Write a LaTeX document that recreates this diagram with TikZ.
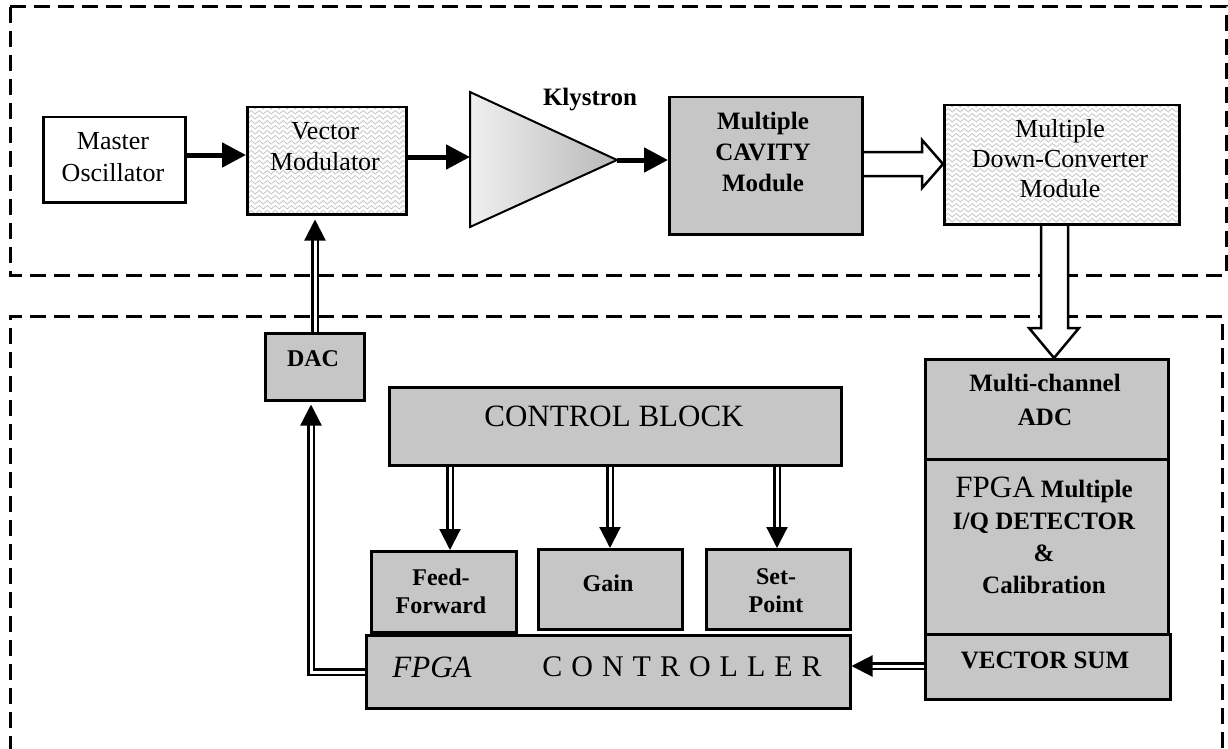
\documentclass[tikz,border=0pt]{standalone}
\usepackage{fontspec}
\setmainfont{Liberation Serif}
\newfontfamily\spacedfont[LetterSpace=30]{Liberation Serif}
\usetikzlibrary{arrows.meta,calc,decorations.pathmorphing,backgrounds}
\newcommand\myfs[2]{\fontsize{#1}{#2}\selectfont}
\begin{document}
\begin{tikzpicture}[x=1pt,y=-1pt,
  box/.style={draw, line width=2.5pt, inner sep=0pt, anchor=north west},
  graybox/.style={box, fill=gray!45},
  wavybox/.style={box, fill=white, path picture={
     \foreach \k in {0,...,26}{
       \draw[gray!45, line width=0.8pt, decorate, decoration={zigzag, segment length=8pt, amplitude=1.8pt}]
         ($(path picture bounding box.north west)+(-6,\k*5)$) -- ++(260,0);}}},
  txt/.style={align=center, inner sep=0pt},
  dashbox/.style={line width=3pt, dash pattern=on 16pt off 8pt},
  thickarr/.style={line width=5pt, -{Triangle[length=24pt,width=24pt]}},
  dblarr/.style={double, double distance=3pt, line width=2.2pt, -{Triangle[length=21pt,width=21pt]}},
  hollow/.style={line width=2.5pt, fill=white, line join=miter},
]
\useasboundingbox (0,0) rectangle (1228,749);

% boxes
\node[box, fill=white, minimum width=142pt, minimum height=85pt] (mo) at (42,116) {};
\node[wavybox, minimum width=159pt, minimum height=107pt] (vm) at (246,106) {};
\node[graybox, minimum width=193pt, minimum height=137pt] (cav) at (668,96) {};
\node[wavybox, minimum width=235pt, minimum height=119pt] (dc) at (943,104) {};
\node[graybox, minimum width=99pt, minimum height=67pt] (dac) at (264,332) {};
\node[graybox, minimum width=452pt, minimum height=78pt] (cb) at (388,386) {};
\node[graybox, minimum width=145pt, minimum height=81pt] (ff) at (370,550) {};
\node[graybox, minimum width=144pt, minimum height=80pt] (gain) at (537,548) {};
\node[graybox, minimum width=144pt, minimum height=80pt] (sp) at (705,548) {};
\node[graybox, minimum width=484pt, minimum height=73pt] (ctrl) at (365,634) {};
\node[graybox, minimum width=243pt, minimum height=100pt] (adc) at (924,358) {};
\node[graybox, minimum width=243pt, minimum height=175pt] (det) at (924,458) {};
\node[graybox, minimum width=245pt, minimum height=65pt] (vs) at (924,633) {};

% klystron
\coordinate (klyin) at (470,157);
\coordinate (klyout) at (617,160);
\draw[line width=2pt, left color=gray!12, right color=gray!55] (470,92) -- (klyout) -- (470,227) -- cycle;

% texts
\node[txt, font=\myfs{26}{32}] (mot) at (113,157) {Master\\Oscillator};
\node[txt, font=\myfs{26}{31}] (vmt) at (325,147) {Vector\\Modulator};
\node[txt, font=\bfseries\myfs{25}{30}] (klyt) at (590,100) {Klystron};
\node[txt, font=\bfseries\myfs{25}{31}] (cavt) at (763,152) {Multiple\\CAVITY\\Module};
\node[txt, font=\myfs{26}{30}] (dct) at (1060,159) {Multiple\\Down-Converter\\Module};
\node[txt, font=\bfseries\myfs{24}{30}] (dact) at (313,359) {DAC};
\node[txt, font=\myfs{31}{36}] (cbt) at (614,416) {CONTROL BLOCK};
\node[txt, font=\bfseries\myfs{24}{28}] (fft) at (441,591) {Feed-\\Forward};
\node[txt, font=\bfseries\myfs{24}{28}] (gaint) at (608,583) {Gain};
\node[txt, font=\bfseries\myfs{24}{28}] (spt) at (776,591) {Set-\\Point};
\node[txt, font=\itshape\myfs{31}{36}] (fpgat) at (432,667) {FPGA};
\node[txt, font=\spacedfont\myfs{30}{36}] (ctrlt) at (682,667) {CONTROLLER};
\node[txt, font=\bfseries\myfs{25}{34}] (adct) at (1045,400) {Multi-channel\\ADC};
\node[txt, font=\bfseries\myfs{25}{32}] (dett) at (1044,535) {{\mdseries\myfs{31}{32}FPGA} Multiple\\I/Q DETECTOR\\\&\\Calibration};
\node[txt, font=\bfseries\myfs{25}{30}] (vst) at (1045,660) {VECTOR SUM};

% background: dashed frames and hollow arrows
\begin{pgfonlayer}{background}
\draw[dashbox] (10,7) rectangle (1226,275);
\draw[dashbox] (10,752) -- (10,316) -- (1222,316) -- (1222,752);
\draw[hollow] (cav.east |- 0,152) -- (922,152) -- (922,140) -- (dc.west |- 0,164) -- (922,188) -- (922,176) -- (cav.east |- 0,176);
\draw[hollow] (1041,0 |- dc.south) -- (1041,328) -- (1029,328) -- (1054,0 |- adc.north) -- (1079,328) -- (1068,328) -- (1068,0 |- dc.south);
\end{pgfonlayer}

% thick arrows
\draw[thickarr] (mo.east |- 0,155) -- (vm.west |- 0,155);
\draw[thickarr] (vm.east |- klyin) -- (klyin);
\draw[thickarr] (klyout) -- (cav.west |- klyout);

% double arrows
\draw[dblarr, shorten >=4pt] (dac.north -| 315,0) -- (315,0 |- vm.south);
\draw[dblarr, shorten >=3pt] (ctrl.west |- 0,672) -| (311,0 |- dac.south);
\draw[dblarr] (cb.south -| 450,0) -- (450,0 |- ff.north);
\draw[dblarr] (cb.south -| 610,0) -- (610,0 |- gain.north);
\draw[dblarr] (cb.south -| 777,0) -- (777,0 |- sp.north);
\draw[dblarr] (vs.west |- 0,666) -- (ctrl.east |- 0,666);
\end{tikzpicture}
\end{document}
